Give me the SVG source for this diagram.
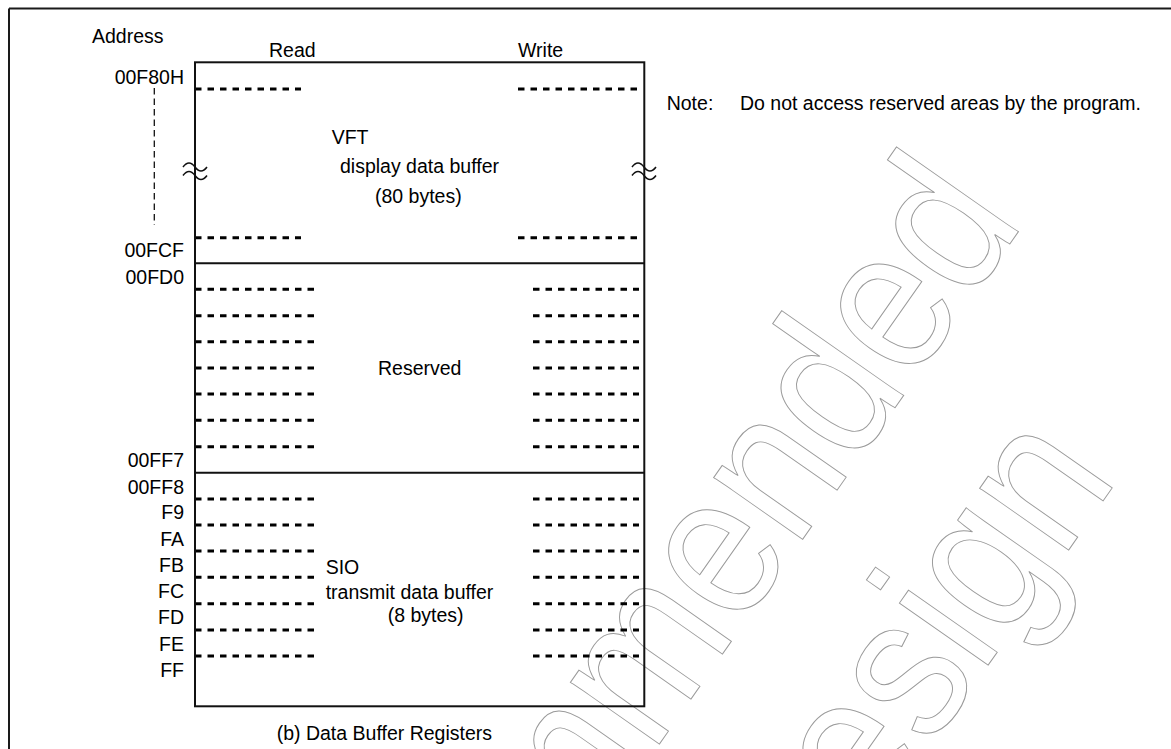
<svg xmlns="http://www.w3.org/2000/svg" width="1171" height="749" viewBox="0 0 1171 749">
<style>
text{font-family:"Liberation Sans",Arial,sans-serif;font-size:19.5px;fill:#000}
.lbl{text-anchor:end}
.box{fill:none;stroke:#111;stroke-width:2}
.sep{stroke:#111;stroke-width:2}
.dash{stroke:#000;stroke-width:3;stroke-dasharray:6.5 6}
.wm{fill:none;stroke:#9a9a9a;stroke-width:1;font-size:205px}
.wave{fill:none;stroke:#111;stroke-width:1.5}
</style>
<rect x="0" y="0" width="1171" height="749" fill="#fff"/>
<g id="watermark" transform="translate(1025,222) rotate(-55) scale(0.877,1)">
<text class="wm" x="0" y="0" text-anchor="end">Not Recommended</text>
<text class="wm" x="-178" y="224" text-anchor="end">for New Design</text>
</g>
<g id="frame">
<line x1="9" y1="8.5" x2="1171" y2="8.5" stroke="#1a1a1a" stroke-width="2"/>
<line x1="9" y1="8.5" x2="9" y2="749" stroke="#1a1a1a" stroke-width="2"/>
</g>
<g id="headers">
<text x="92" y="43.3">Address</text>
<text x="269" y="57.3">Read</text>
<text x="518" y="57.3">Write</text>
</g>
<g id="note">
<text x="666.7" y="110">Note:</text>
<text x="740" y="110">Do not access reserved areas by the program.</text>
</g>
<g id="address-labels">
<text class="lbl" x="184" y="84">00F80H</text>
<text class="lbl" x="184" y="257">00FCF</text>
<text class="lbl" x="184" y="284">00FD0</text>
<text class="lbl" x="184" y="467.3">00FF7</text>
<text class="lbl" x="184" y="493.7">00FF8</text>
<text class="lbl" x="184" y="519.3">F9</text>
<text class="lbl" x="184" y="545.7">FA</text>
<text class="lbl" x="184" y="572">FB</text>
<text class="lbl" x="184" y="598">FC</text>
<text class="lbl" x="184" y="624.3">FD</text>
<text class="lbl" x="184" y="650.7">FE</text>
<text class="lbl" x="184" y="676.7">FF</text>
</g>
<g id="connectors">
<line x1="154.3" y1="88" x2="154.3" y2="225" stroke="#111" stroke-width="1.3" stroke-dasharray="6.5 4"/>
</g>
<g id="vft-block">
<line class="dash" x1="195" y1="89" x2="301" y2="89"/>
<line class="dash" x1="518" y1="89" x2="638" y2="89"/>
<line class="dash" x1="195" y1="237.7" x2="301" y2="237.7"/>
<line class="dash" x1="518" y1="237.7" x2="638" y2="237.7"/>
<text x="331.7" y="144">VFT</text>
<text x="340" y="173">display data buffer</text>
<text x="375" y="203">(80 bytes)</text>
</g>
<g id="reserved-block">
<g>
<line class="dash" x1="195" y1="289.3" x2="315" y2="289.3"/>
<line class="dash" x1="195" y1="315.7" x2="315" y2="315.7"/>
<line class="dash" x1="195" y1="341.7" x2="315" y2="341.7"/>
<line class="dash" x1="195" y1="368" x2="315" y2="368"/>
<line class="dash" x1="195" y1="394" x2="315" y2="394"/>
<line class="dash" x1="195" y1="420.3" x2="315" y2="420.3"/>
<line class="dash" x1="195" y1="446.7" x2="315" y2="446.7"/>
<line class="dash" x1="533" y1="289.3" x2="639" y2="289.3"/>
<line class="dash" x1="533" y1="315.7" x2="639" y2="315.7"/>
<line class="dash" x1="533" y1="341.7" x2="639" y2="341.7"/>
<line class="dash" x1="533" y1="368" x2="639" y2="368"/>
<line class="dash" x1="533" y1="394" x2="639" y2="394"/>
<line class="dash" x1="533" y1="420.3" x2="639" y2="420.3"/>
<line class="dash" x1="533" y1="446.7" x2="639" y2="446.7"/>
</g>
<text x="378" y="375">Reserved</text>
</g>
<g id="sio-block">
<g>
<line class="dash" x1="195" y1="499" x2="315" y2="499"/>
<line class="dash" x1="195" y1="525" x2="315" y2="525"/>
<line class="dash" x1="195" y1="551" x2="315" y2="551"/>
<line class="dash" x1="195" y1="577.3" x2="315" y2="577.3"/>
<line class="dash" x1="195" y1="603.7" x2="315" y2="603.7"/>
<line class="dash" x1="195" y1="630" x2="315" y2="630"/>
<line class="dash" x1="195" y1="656" x2="315" y2="656"/>
<line class="dash" x1="533" y1="499" x2="639" y2="499"/>
<line class="dash" x1="533" y1="525" x2="639" y2="525"/>
<line class="dash" x1="533" y1="551" x2="639" y2="551"/>
<line class="dash" x1="533" y1="577.3" x2="639" y2="577.3"/>
<line class="dash" x1="533" y1="603.7" x2="639" y2="603.7"/>
<line class="dash" x1="533" y1="630" x2="639" y2="630"/>
<line class="dash" x1="533" y1="656" x2="639" y2="656"/>
</g>
<text x="325.7" y="574">SIO</text>
<text x="325.7" y="599">transmit data buffer</text>
<text x="387.7" y="622">(8 bytes)</text>
</g>
<g id="memory-box">
<rect class="box" x="195" y="62.3" width="449.3" height="644"/>
<line class="sep" x1="195" y1="263.3" x2="644.3" y2="263.3"/>
<line class="sep" x1="195" y1="472.7" x2="644.3" y2="472.7"/>
</g>
<g id="breaks">
<path class="wave" d="M183,167 q6,-8 12,0 t12,0 M183,175.5 q6,-8 12,0 t12,0"/>
<path class="wave" d="M632,167 q6,-8 12,0 t12,0 M632,175.5 q6,-8 12,0 t12,0"/>
</g>
<g id="caption">
<text x="276.7" y="739.6">(b) Data Buffer Registers</text>
</g>
</svg>
